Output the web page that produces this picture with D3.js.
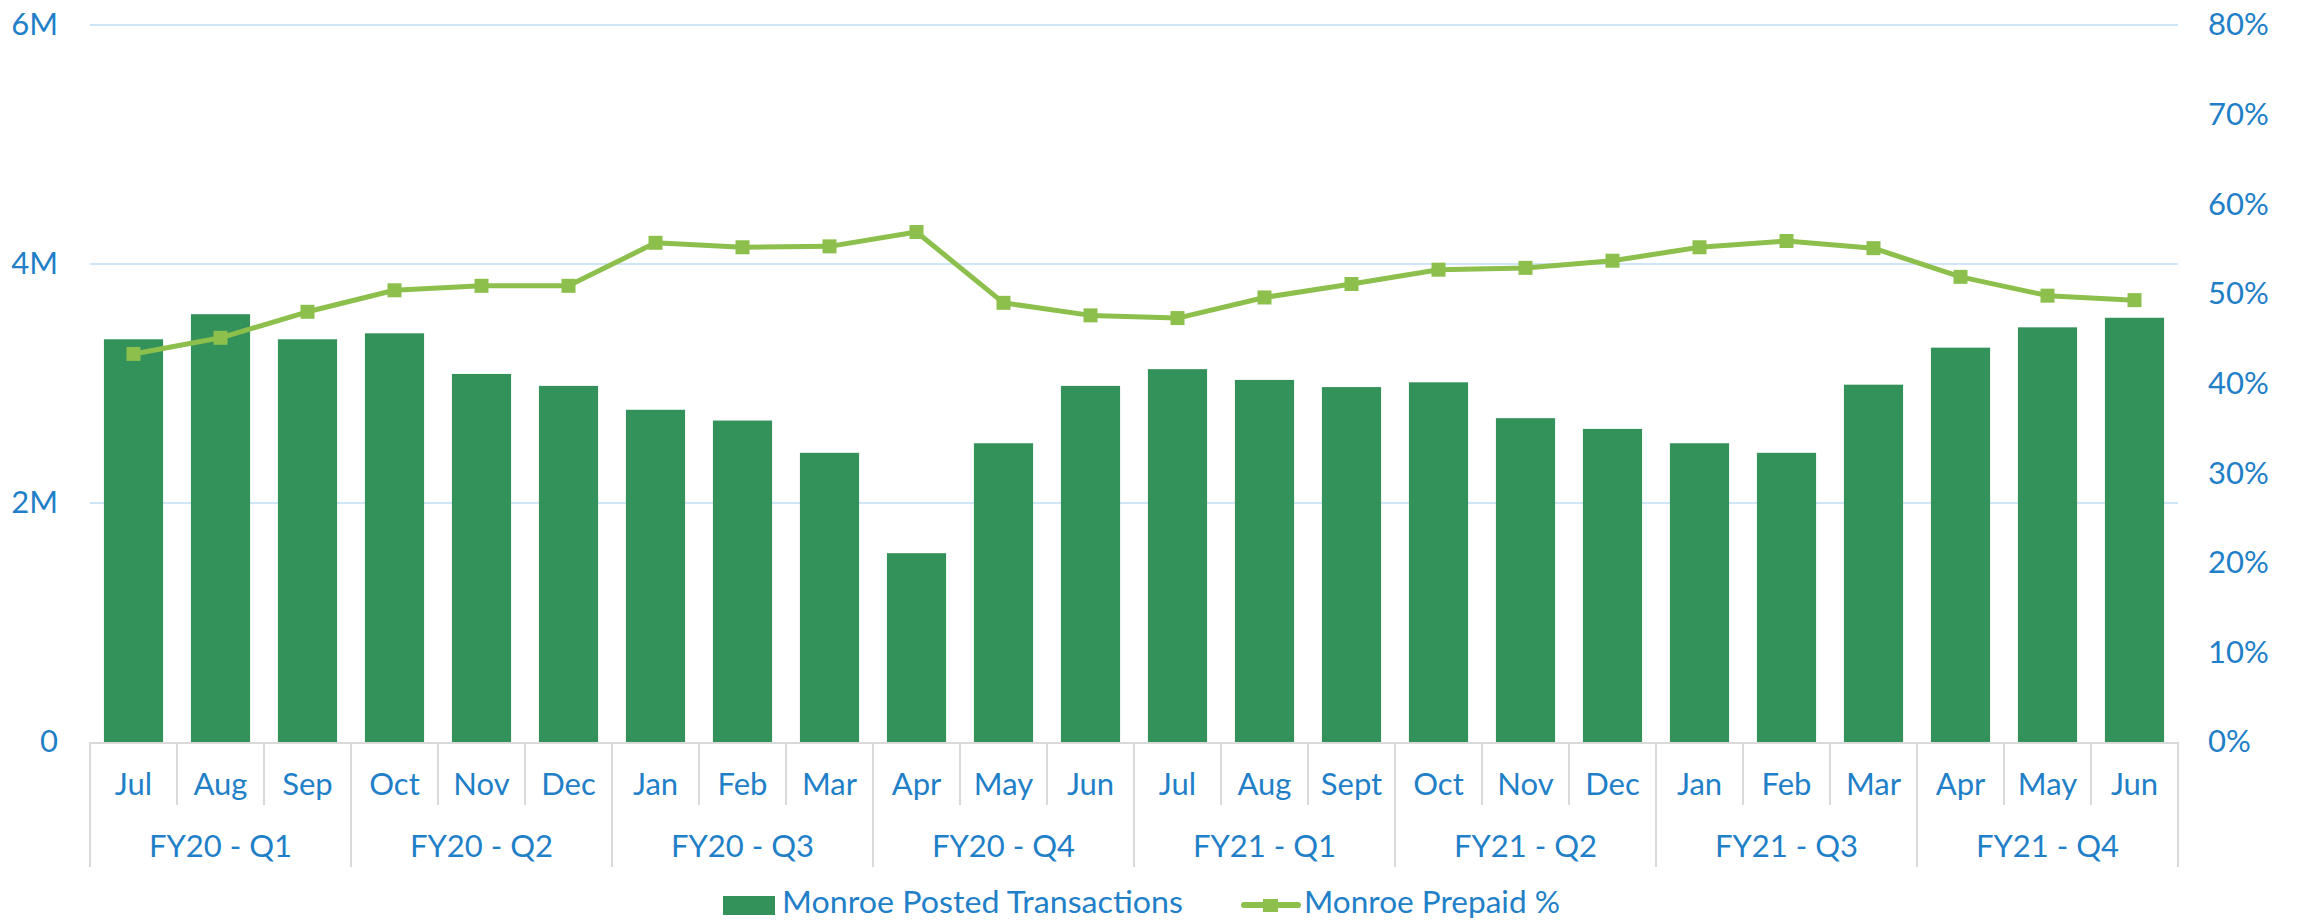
<!DOCTYPE html>
<html>
<head>
<meta charset="utf-8">
<script src="https://cdn.jsdelivr.net/npm/d3@7"></script>
<style>
  html, body { margin: 0; padding: 0; background: #ffffff; }
  svg { display: block; }
  text { font-family: Lato, "Open Sans", sans-serif; fill: #1F80C8; }
</style>
</head>
<body>
<svg id="chart" width="2308" height="922"></svg>
<script>
// ---- data ----
const months = ["Jul","Aug","Sep","Oct","Nov","Dec","Jan","Feb","Mar","Apr","May","Jun",
                "Jul","Aug","Sept","Oct","Nov","Dec","Jan","Feb","Mar","Apr","May","Jun"];
const quarters = ["FY20 - Q1","FY20 - Q2","FY20 - Q3","FY20 - Q4","FY21 - Q1","FY21 - Q2","FY21 - Q3","FY21 - Q4"];
const postedTransactions = [3370000,3580000,3370000,3420000,3080000,2980000,2780000,2690000,2420000,1580000,2500000,2980000,
                            3120000,3030000,2970000,3010000,2710000,2620000,2500000,2420000,2990000,3300000,3470000,3550000];
const prepaidPct = [0.433,0.451,0.480,0.504,0.509,0.509,0.557,0.552,0.553,0.569,0.490,0.476,
                    0.473,0.496,0.511,0.527,0.529,0.537,0.552,0.559,0.551,0.519,0.498,0.493];
const leftTicks = [0, 2000000, 4000000, 6000000];
const leftTickLabels = ["0","2M","4M","6M"];
const rightTicks = [0,0.1,0.2,0.3,0.4,0.5,0.6,0.7,0.8];
const rightTickLabels = ["0%","10%","20%","30%","40%","50%","60%","70%","80%"];
const seriesNames = ["Monroe Posted Transactions","Monroe Prepaid %"];

// ---- layout ----
const svg = d3.select("#chart");
const L = 90, R = 2178, T = 25, B = 742;
const TEXT = "#1F80C8", BAR = "#33915A", LINE = "#8CBF4C", GRID = "#CFE6F8", AXIS = "#D9D9D9";

const idx = months.map((m, i) => i);
const x = d3.scaleBand().domain(idx).range([L, R]).paddingInner(0.32).paddingOuter(0.16);
const step = x.step();
const yL = d3.scaleLinear().domain([0, 6000000]).range([B, T]);
const yR = d3.scaleLinear().domain([0, 0.8]).range([B, T]);

// gridlines
svg.append("g").selectAll("line").data(leftTicks.filter(d => d > 0)).join("line")
  .attr("x1", L).attr("x2", R).attr("y1", d => yL(d)).attr("y2", d => yL(d))
  .attr("stroke", GRID).attr("stroke-width", 2);

// left axis
const axL = svg.append("g").attr("transform", `translate(${L},0)`)
  .call(d3.axisLeft(yL).tickValues(leftTicks).tickFormat((d, i) => leftTickLabels[i]).tickSize(0).tickPadding(32));
axL.select(".domain").remove();
axL.selectAll("text").attr("font-size", 31).attr("fill", TEXT).attr("font-family", "Lato, sans-serif");

// right axis
const axR = svg.append("g").attr("transform", `translate(${R},0)`)
  .call(d3.axisRight(yR).tickValues(rightTicks).tickFormat((d, i) => rightTickLabels[i]).tickSize(0).tickPadding(30));
axR.select(".domain").remove();
axR.selectAll("text").attr("font-size", 31).attr("fill", TEXT).attr("font-family", "Lato, sans-serif");

// bars
svg.append("g").selectAll("rect").data(postedTransactions).join("rect")
  .attr("x", (d, i) => x(i)).attr("width", x.bandwidth())
  .attr("y", d => yL(d)).attr("height", d => yL(0) - yL(d))
  .attr("fill", BAR);

// category axis
const catG = svg.append("g");
catG.append("line").attr("x1", L).attr("x2", R).attr("y1", B + 1).attr("y2", B + 1)
  .attr("stroke", AXIS).attr("stroke-width", 2);
const bounds = d3.range(months.length + 1);
catG.selectAll("line.sep").data(bounds).join("line").attr("class", "sep")
  .attr("x1", i => L + i * step).attr("x2", i => L + i * step)
  .attr("y1", B).attr("y2", i => (i % 3 === 0 ? 867 : 805))
  .attr("stroke", AXIS).attr("stroke-width", 2);
catG.selectAll("text.m").data(months).join("text").attr("class", "m")
  .attr("x", (d, i) => x(i) + x.bandwidth() / 2).attr("y", 795)
  .attr("text-anchor", "middle").attr("font-size", 31).text(d => d);
catG.selectAll("text.q").data(quarters).join("text").attr("class", "q")
  .attr("x", (d, i) => L + (i * 3 + 1.5) * step).attr("y", 857)
  .attr("text-anchor", "middle").attr("font-size", 31).text(d => d);

// line
const line = d3.line().x((d, i) => x(i) + x.bandwidth() / 2).y(d => yR(d));
svg.append("path").datum(prepaidPct).attr("d", line)
  .attr("fill", "none").attr("stroke", LINE).attr("stroke-width", 5).attr("stroke-linejoin", "round");
svg.append("g").selectAll("rect").data(prepaidPct).join("rect")
  .attr("x", (d, i) => x(i) + x.bandwidth() / 2 - 7).attr("y", d => yR(d) - 7)
  .attr("width", 14).attr("height", 14).attr("fill", LINE);

// legend
const lg = svg.append("g");
lg.append("rect").attr("x", 723).attr("y", 896).attr("width", 52).attr("height", 19).attr("fill", BAR);
lg.append("text").attr("x", 782).attr("y", 913).attr("font-size", 30)
  .attr("textLength", 401).attr("lengthAdjust", "spacingAndGlyphs").text(seriesNames[0]);
lg.append("line").attr("x1", 1244).attr("x2", 1298).attr("y1", 905).attr("y2", 905)
  .attr("stroke", LINE).attr("stroke-width", 6).attr("stroke-linecap", "round");
lg.append("rect").attr("x", 1263).attr("y", 899).attr("width", 15).attr("height", 13).attr("fill", LINE);
lg.append("text").attr("x", 1304).attr("y", 913).attr("font-size", 30)
  .attr("textLength", 256).attr("lengthAdjust", "spacingAndGlyphs").text(seriesNames[1]);
</script>
</body>
</html>
